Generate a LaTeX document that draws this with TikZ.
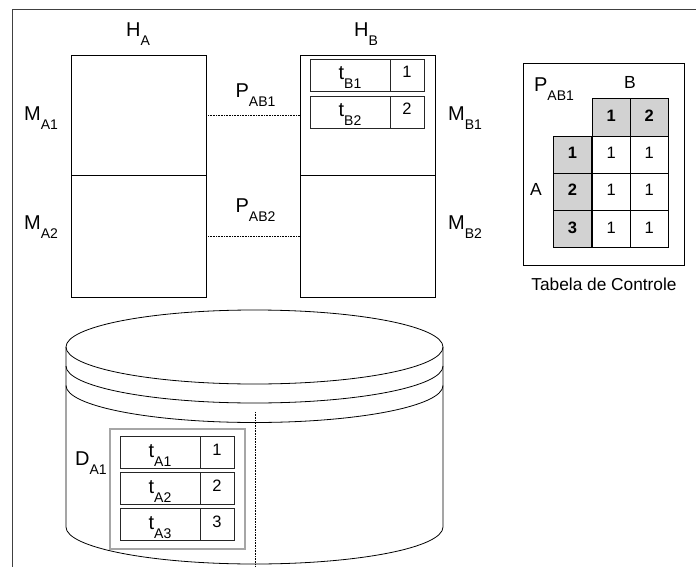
\documentclass[tikz,border=0pt]{standalone}
\usepackage{fontspec}
\setmainfont{Liberation Sans}
\newcommand{\sublbl}[2]{#1\raisebox{-9pt}{\fontsize{14}{14}\selectfont #2}}

\begin{document}
\begin{tikzpicture}[x=1pt, y=-1pt, line width=0.8pt,
    box/.style={draw, minimum width=135, inner sep=0},
    lbl/.style={font=\fontsize{20}{22}\selectfont, anchor=base, inner sep=0},
    cell/.style={draw=black!85, minimum height=32, inner sep=0},
    namecell/.style={cell, minimum width=80, text height=14pt, text depth=4pt,
                     font=\fontsize{20}{22}\selectfont},
    numcell/.style={cell, minimum width=34, text height=12pt, text depth=6pt,
                    font=\fontsize{16.5}{18}\selectfont},
    tab/.style={draw, minimum width=38.4, minimum height=37.3, inner sep=0,
                text height=12pt, text depth=4pt, font=\fontsize{16.5}{18}\selectfont},
    head/.style={tab, fill=gray!35, font=\fontsize{16.5}{18}\selectfont\bfseries}]
    \useasboundingbox (0,0) rectangle (696,567);

    % frame
    \draw[black!75, line width=1.2pt] (696,9.7) -- (12.7,9.7) -- (12.7,567);

    % host A
    \node[box, minimum height=120] (ma1) at (138.5,115) {};
    \node[box, minimum height=122] (ma2) at (138.5,236) {};
    \node[lbl] (ha) at (138,37) {\sublbl{H}{A}};
    \node[lbl] (lma1) at (41,121) {\sublbl{M}{A1}};
    \node[lbl] (lma2) at (41,229) {\sublbl{M}{A2}};

    % host B
    \node[box, minimum height=120] (mb1) at (367.5,115) {};
    \node[box, minimum height=122] (mb2) at (367.5,236) {};
    \node[lbl] (hb) at (366,37) {\sublbl{H}{B}};
    \node[lbl] (lmb1) at (465,121) {\sublbl{M}{B1}};
    \node[lbl] (lmb2) at (465,229) {\sublbl{M}{B2}};
    \node[namecell] (tb1) at (350,75) {\sublbl{t}{B1}};
    \node[numcell] (nb1) at (407,75) {1};
    \node[namecell] (tb2) at (350,112) {\sublbl{t}{B2}};
    \node[numcell] (nb2) at (407,112) {2};

    % pages
    \draw[densely dotted, line width=0.6pt] (ma1.east) -- (mb1.west);
    \draw[densely dotted, line width=0.6pt] (ma2.east) -- (mb2.west);
    \node[lbl] (pab1) at (255.5,98) {\sublbl{P}{AB1}};
    \node[lbl] (pab2) at (255.5,212) {\sublbl{P}{AB2}};

    % control table
    \node[draw, minimum width=161, minimum height=201.7] (ctl) at (603.8,164.2) {};
    \node[lbl] (ctlp) at (554,92) {\sublbl{P}{AB1}};
    \node[lbl, font=\fontsize{17.5}{19}\selectfont] (ctlb) at (630,88.3) {B};
    \node[lbl, font=\fontsize{17.5}{19}\selectfont] (ctla) at (536,195) {A};
    \node[head] (hb1) at (611.2,117.3) {1};
    \node[head] (hb2) at (649.3,117.3) {2};
    \node[head] (ha1) at (572.5,154.6) {1};
    \node[head] (ha2) at (572.5,191.9) {2};
    \node[head] (ha3) at (572.5,229.2) {3};
    \node[tab] (c11) at (611.2,154.6) {1};
    \node[tab] (c12) at (649.3,154.6) {1};
    \node[tab] (c21) at (611.2,191.9) {1};
    \node[tab] (c22) at (649.3,191.9) {1};
    \node[tab] (c31) at (611.2,229.2) {1};
    \node[tab] (c32) at (649.3,229.2) {1};
    \node[lbl, font=\fontsize{17.3}{19}\selectfont] (ctlt) at (604,290) {Tabela de Controle};

    % disk
    \draw (254.5,347) ellipse [x radius=188.5, y radius=37];
    \draw (66,366) arc [start angle=180, end angle=0, x radius=188.5, y radius=37];
    \draw (66,385.5) arc [start angle=180, end angle=0, x radius=188.5, y radius=37];
    \draw (66,347) -- (66,527) arc [start angle=180, end angle=0, x radius=188.5, y radius=37]
          -- (443,347);
    \coordinate (dtop) at (255,412);
    \coordinate (dbot) at (255,567);
    \draw[densely dotted, line width=0.6pt] (dtop) -- (dbot);

    % disk area A1
    \node[draw=gray!70, line width=1.6pt, minimum width=135, minimum height=120] (da1) at (177.5,489) {};
    \node[lbl] (lda1) at (91,465) {\sublbl{D}{A1}};
    \node[namecell] (ta1) at (160,452) {\sublbl{t}{A1}};
    \node[numcell] (na1) at (217,452) {1};
    \node[namecell] (ta2) at (160,488) {\sublbl{t}{A2}};
    \node[numcell] (na2) at (217,488) {2};
    \node[namecell] (ta3) at (160,524) {\sublbl{t}{A3}};
    \node[numcell] (na3) at (217,524) {3};
\end{tikzpicture}
\end{document}
